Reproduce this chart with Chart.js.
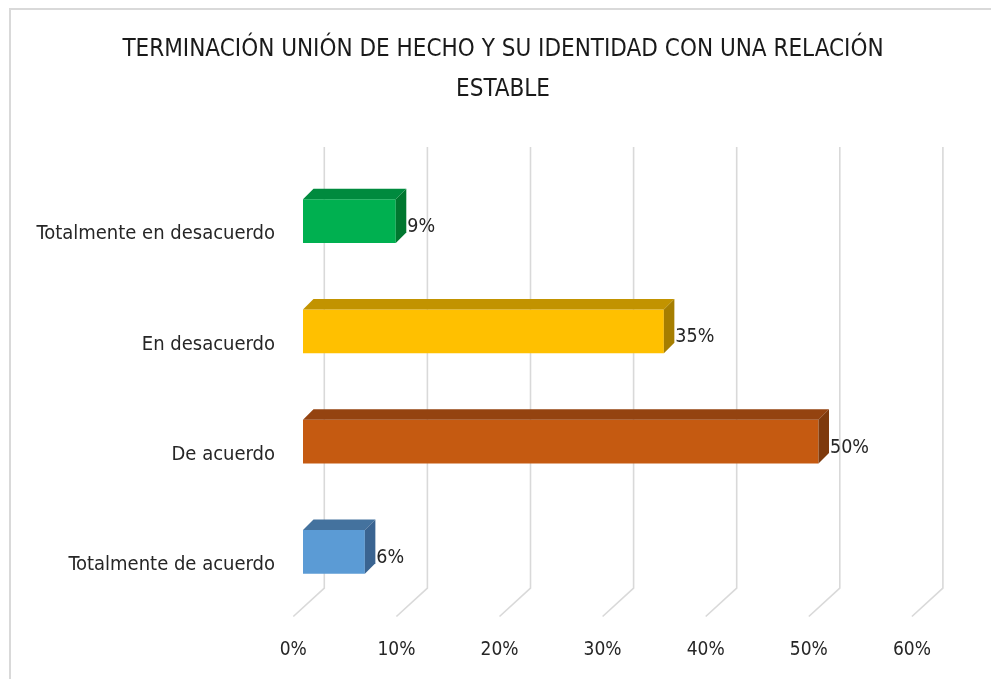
<!DOCTYPE html>
<html>
<head>
<meta charset="utf-8">
<script src="https://cdn.jsdelivr.net/npm/chart.js@4"></script>
<style>
  html, body { margin: 0; padding: 0; background: #fff; }
</style>
</head>
<body>
<canvas id="grafica" width="991" height="679"></canvas>
<script>
const titulo = ["TERMINACIÓN UNIÓN DE HECHO Y SU IDENTIDAD CON UNA RELACIÓN", "ESTABLE"];
const categorias = ["Totalmente en desacuerdo", "En desacuerdo", "De acuerdo", "Totalmente de acuerdo"];
const porcentajes = [9, 35, 50, 6];
const etiquetas = ["9%", "35%", "50%", "6%"];
const ticksX = [0, 10, 20, 30, 40, 50, 60];

const colorFrente = ["#00B050", "#FFC000", "#C55A11", "#5B9BD5"];
const colorArriba = ["#008A3E", "#C29300", "#944310", "#44729E"];
const colorLado = ["#00772F", "#A67E00", "#7E3A0D", "#3A6491"];

const fuente = "'Liberation Sans Narrow', 'DejaVu Sans Condensed', sans-serif";

// profundidad de la caja 3D (barra) y de las paredes
const prof = { dx: 10.5, dy: 10.5 };
const frente = { dx: -9.7, dy: 9.5 };
const fondo = { dx: 21.3, dy: -18.9 };

const marco = {
    id: "marco",
    beforeDraw(chart) {
        const c = chart.ctx;
        c.save();
        c.fillStyle = "#ffffff";
        c.fillRect(0, 0, chart.width, chart.height);
        c.strokeStyle = "#d9d9d9";
        c.lineWidth = 2;
        c.beginPath();
        c.moveTo(10, chart.height);
        c.lineTo(10, 9);
        c.lineTo(chart.width, 9);
        c.stroke();
        // titulo (centrado en el marco, no en el area del grafico)
        c.fillStyle = "#1a1a1a";
        c.font = "24px " + fuente;
        c.textAlign = "center";
        c.textBaseline = "middle";
        c.fillText(titulo[0], 503, 50);
        c.fillText(titulo[1], 503, 90);
        c.restore();
    }
};

const rejilla3D = {
    id: "rejilla3D",
    beforeDatasetsDraw(chart) {
        const c = chart.ctx;
        const x = chart.scales.x;
        const a = chart.chartArea;
        c.save();
        c.strokeStyle = "#d9d9d9";
        c.lineWidth = 1.6;
        ticksX.forEach(v => {
            const px = x.getPixelForValue(v);
            c.beginPath();
            c.moveTo(px + fondo.dx, a.top + fondo.dy);
            c.lineTo(px + fondo.dx, a.bottom + fondo.dy);
            c.lineTo(px + frente.dx, a.bottom + frente.dy);
            c.stroke();
        });
        c.restore();
    },
    afterDatasetsDraw(chart) {
        const c = chart.ctx;
        const meta = chart.getDatasetMeta(0);
        c.save();
        meta.data.forEach((bar, i) => {
            const h = bar.height;
            const top = bar.y - h / 2;
            const bot = bar.y + h / 2;
            c.fillStyle = colorArriba[i];
            c.beginPath();
            c.moveTo(bar.base, top);
            c.lineTo(bar.base + prof.dx, top - prof.dy);
            c.lineTo(bar.x + prof.dx, top - prof.dy);
            c.lineTo(bar.x, top);
            c.closePath();
            c.fill();
            c.fillStyle = colorLado[i];
            c.beginPath();
            c.moveTo(bar.x, top);
            c.lineTo(bar.x + prof.dx, top - prof.dy);
            c.lineTo(bar.x + prof.dx, bot - prof.dy);
            c.lineTo(bar.x, bot);
            c.closePath();
            c.fill();

            c.fillStyle = "#262626";
            c.font = "19.5px " + fuente;
            c.textAlign = "left";
            c.textBaseline = "middle";
            c.fillText(etiquetas[i], bar.x + prof.dx + 1, bar.y + 6);
        });
        c.restore();
    }
};

new Chart(document.getElementById("grafica"), {
    type: "bar",
    data: {
        labels: categorias,
        datasets: [{
            data: porcentajes,
            backgroundColor: colorFrente,
            borderWidth: 0,
            categoryPercentage: 1,
            barPercentage: 0.395
        }]
    },
    options: {
        indexAxis: "y",
        responsive: false,
        animation: false,
        layout: { padding: { left: 15, right: 69.4, top: 166, bottom: 0 } },
        plugins: {
            legend: { display: false },
            tooltip: { enabled: false },
            title: { display: false }
        },
        scales: {
            x: {
                min: 0,
                max: 60,
                afterFit(s) { s.height = 72; },
                grid: { display: false, drawTicks: false },
                border: { display: false },
                ticks: {
                    stepSize: 10,
                    padding: 32,
                    labelOffset: frente.dx,
                    color: "#262626",
                    font: { family: fuente, size: 19 },
                    callback: v => v + "%"
                }
            },
            y: {
                afterFit(s) { s.width = 288; },
                grid: { display: false, drawTicks: false },
                border: { display: false },
                ticks: {
                    padding: 28,
                    labelOffset: 13,
                    color: "#262626",
                    font: { family: fuente, size: 20 }
                }
            }
        }
    },
    plugins: [marco, rejilla3D]
});
</script>
</body>
</html>
